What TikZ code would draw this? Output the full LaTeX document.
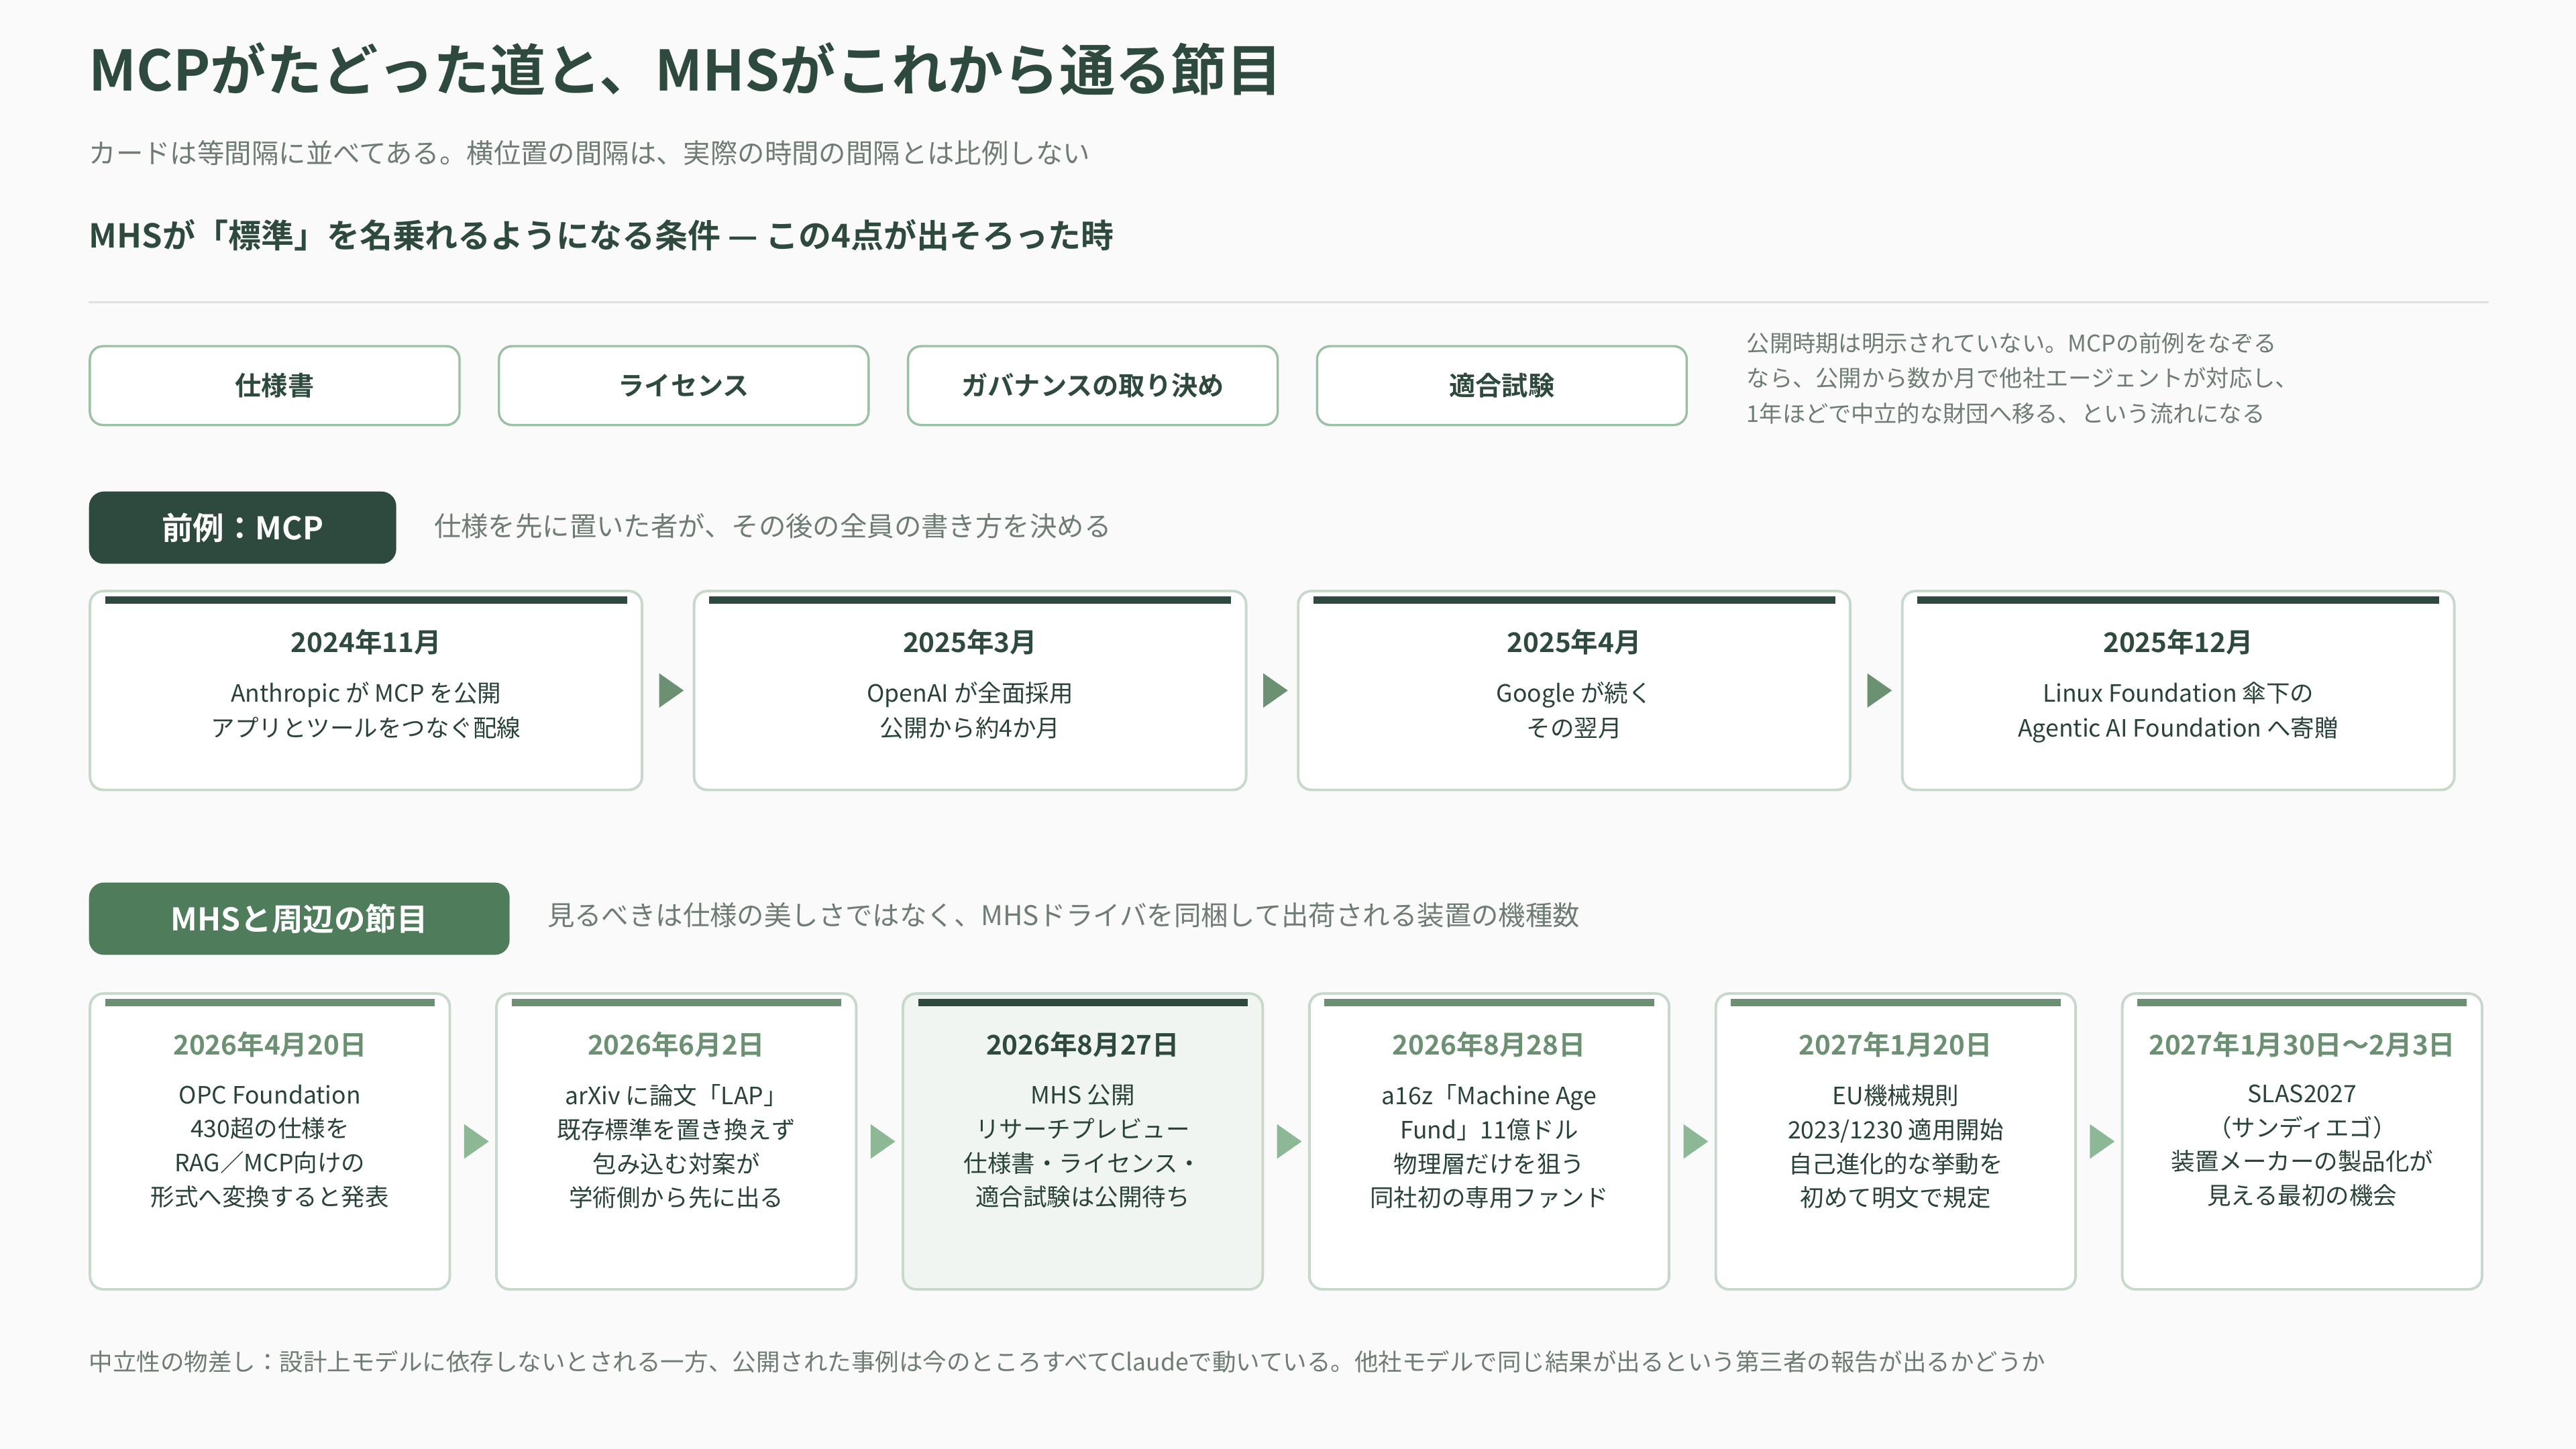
\documentclass[tikz,border=0pt]{standalone}
\usepackage{fontspec}
\setmainfont{Noto Sans CJK JP}[BoldFont={Noto Sans CJK JP Bold}]
\usetikzlibrary{positioning,calc,shapes.geometric}
\definecolor{dk}{HTML}{2E4A3E}
\definecolor{md}{HTML}{6B9072}
\definecolor{bd}{HTML}{C8D9CC}
\definecolor{chipbd}{HTML}{9CC0A4}
\definecolor{arr}{HTML}{8DB896}
\definecolor{gy}{HTML}{6E7C74}
\definecolor{bg}{HTML}{FAFAFA}
\definecolor{hl}{HTML}{F0F5F1}
\definecolor{badge}{HTML}{4F7D5B}
\tikzset{
  card/.style={draw=bd, line width=1.6pt, rounded corners=8pt, fill=white, anchor=north west, inner sep=0pt},
  chip/.style={draw=chipbd, line width=1.4pt, rounded corners=8pt, fill=white, minimum width=225pt, minimum height=48pt, anchor=north west, font=\fontsize{16}{16}\selectfont\bfseries, text=dk},
  badge/.style={rounded corners=9pt, minimum height=44pt, anchor=north west, text=white, font=\fontsize{19}{19}\selectfont\bfseries},
  note/.style={text=gy, anchor=west, inner sep=0pt},
  date/.style={font=\fontsize{16.5}{16.5}\selectfont\bfseries, inner sep=0pt},
  body/.style={font=\fontsize{14.5}{21}\selectfont, text=dk!90!black, align=center, inner sep=0pt, anchor=north},
  tri/.style={isosceles triangle, isosceles triangle apex angle=70, fill=#1, inner sep=0pt, minimum height=15pt, minimum width=19pt}
}
\begin{document}
\begin{tikzpicture}[x=1pt,y=-1pt]
\fill[bg] (0,0) rectangle (1568,882);
\useasboundingbox (0,0) rectangle (1568,882);
% header
\node[note, text=dk, font=\fontsize{34}{34}\selectfont\bfseries] (title) at (54,42) {MCPがたどった道と、MHSがこれから通る節目};
\node[note, font=\fontsize{16.5}{16.5}\selectfont] (sub) at (54,93) {カードは等間隔に並べてある。横位置の間隔は、実際の時間の間隔とは比例しない};
\node[note, text=dk, font=\fontsize{20}{20}\selectfont\bfseries] (cond) at (54,143) {MHSが「標準」を名乗れるようになる条件 — この4点が出そろった時};
\coordinate (r1) at (54,184);
\coordinate (r2) at (1515,184);
\draw[black!12, line width=1.2pt] (r1) -- (r2);
% conditions
\foreach \t [count=\i] in {仕様書,ライセンス,ガバナンスの取り決め,適合試験}
  \node[chip] (chip\i) at ({54+(\i-1)*249},210) {\t};
\node[note, anchor=north west, align=left, font=\fontsize{14}{21.5}\selectfont] (pend) at (1063,202)
  {公開時期は明示されていない。MCPの前例をなぞる\\なら、公開から数か月で他社エージェントが対応し、\\1年ほどで中立的な財団へ移る、という流れになる};
% precedent
\node[badge, fill=dk, minimum width=187pt] (b1) at (54,299) {前例：MCP};
\node[note, font=\fontsize{16.5}{16.5}\selectfont] (b1t) at (264,320) {仕様を先に置いた者が、その後の全員の書き方を決める};
\foreach \d/\b [count=\i] in {2024年11月/{Anthropic が MCP を公開\\アプリとツールをつなぐ配線},
  2025年3月/{OpenAI が全面採用\\公開から約4か月},
  2025年4月/{Google が続く\\その翌月},
  2025年12月/{Linux Foundation 傘下の\\Agentic AI Foundation へ寄贈}}{
  \node[card, minimum width=336pt, minimum height=121pt] (p\i) at ({54+(\i-1)*367.7},359) {};
  \fill[dk] ($(p\i.north west)+(10,4)$) rectangle ($(p\i.north east)+(-10,8.5)$);
  \node[date, text=dk] (pd\i) at ($(p\i.north)+(0,32)$) {\d};
  \node[body] (pb\i) at ($(p\i.north)+(0,56)$) {\b};
}
\foreach \i [evaluate=\i as \j using int(\i+1)] in {1,2,3}
  \node[tri=md] at ($(p\i.east)!0.5!(p\j.west)$) {};
% MHS
\node[badge, fill=badge, minimum width=256pt] (b2) at (54,537) {MHSと周辺の節目};
\node[note, font=\fontsize{16.5}{16.5}\selectfont] (b2t) at (333,557) {見るべきは仕様の美しさではなく、MHSドライバを同梱して出荷される装置の機種数};
\foreach \d/\b [count=\i] in {2026年4月20日/{OPC Foundation\\430超の仕様を\\RAG／MCP向けの\\形式へ変換すると発表},
  2026年6月2日/{arXiv に論文「LAP」\\既存標準を置き換えず\\包み込む対案が\\学術側から先に出る},
  2026年8月27日/{MHS 公開\\リサーチプレビュー\\仕様書・ライセンス・\\適合試験は公開待ち},
  2026年8月28日/{a16z「Machine Age\\Fund」11億ドル\\物理層だけを狙う\\同社初の専用ファンド},
  2027年1月20日/{EU機械規則\\2023/1230 適用開始\\自己進化的な挙動を\\初めて明文で規定},
  2027年1月30日〜2月3日/{SLAS2027\\（サンディエゴ）\\装置メーカーの製品化が\\見える最初の機会}}{
  \ifnum\i=3 \def\cc{dk}\def\ff{hl}\else\def\cc{md}\def\ff{white}\fi
  \node[card, fill=\ff, minimum width=219pt, minimum height=180pt] (m\i) at ({54+(\i-1)*247.4},604) {};
  \fill[\cc] ($(m\i.north west)+(10,4)$) rectangle ($(m\i.north east)+(-10,8.5)$);
  \node[date, text=\cc] (md\i) at ($(m\i.north)+(0,32)$) {\d};
  \node[body, font=\fontsize{14.5}{20.7}\selectfont] (mb\i) at ($(m\i.north)+(0,56)$) {\b};
}
\foreach \i [evaluate=\i as \j using int(\i+1)] in {1,...,5}
  \node[tri=arr] at ($(m\i.east)!0.5!(m\j.west)$) {};
% footer
\node[note, font=\fontsize{14.5}{14.5}\selectfont] (foot) at (54,829) {中立性の物差し：設計上モデルに依存しないとされる一方、公開された事例は今のところすべてClaudeで動いている。他社モデルで同じ結果が出るという第三者の報告が出るかどうか};
\end{tikzpicture}
\end{document}
